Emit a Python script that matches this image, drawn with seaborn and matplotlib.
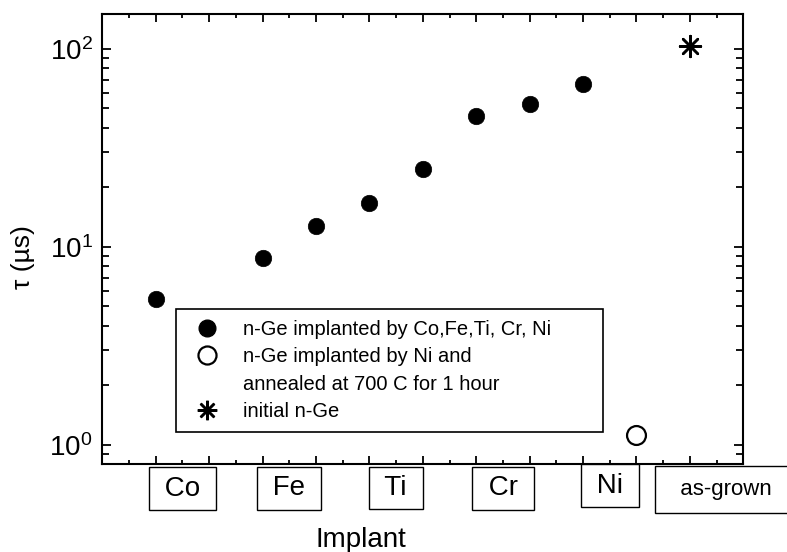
import matplotlib
matplotlib.use("Agg")
import matplotlib.pyplot as plt
import matplotlib.transforms as mtransforms
from matplotlib.lines import Line2D
from matplotlib.ticker import LogLocator, MultipleLocator, NullFormatter
import seaborn as sns
import pandas as pd

# ---- data ----
implanted_x = [1, 3, 4, 5, 6, 7, 8, 9]
implanted_tau = [5.46, 8.8, 12.7, 16.7, 24.6, 45.9, 52.7, 66.3]
annealed_x = [10]
annealed_tau = [1.12]
initial_x = [11]
initial_tau = [103]

category_labels = ["Co", "Fe", "Ti", "Cr", "Ni", "as-grown"]
category_pos = [1.5, 3.5, 5.5, 7.5, 9.5, 11.68]
category_y = [-0.055, -0.054, -0.053, -0.054, -0.048, -0.056]

legend_labels = [
    "n-Ge implanted by Co,Fe,Ti, Cr, Ni",
    "n-Ge implanted by Ni and",
    "annealed at 700 C for 1 hour",
    "initial n-Ge",
]

sns.set_theme(style="ticks", rc={
    "axes.edgecolor": "black", "text.color": "black", "axes.labelcolor": "black",
    "xtick.color": "black", "ytick.color": "black",
})
plt.rcParams["font.family"] = ["Liberation Sans", "DejaVu Sans"]
plt.rcParams["mathtext.fontset"] = "custom"
plt.rcParams["mathtext.rm"] = "Liberation Sans"
plt.rcParams["mathtext.it"] = "Liberation Sans:italic"
plt.rcParams["mathtext.bf"] = "Liberation Sans:bold"

fig = plt.figure(figsize=(7.87, 5.52), dpi=100)
ax = fig.add_axes([0.13, 0.1594, 0.8145, 0.8152])
ax.set_yscale("log")

df1 = pd.DataFrame({"x": implanted_x, "tau": implanted_tau})
sns.scatterplot(data=df1, x="x", y="tau", ax=ax, color="black", s=140, marker="o",
                edgecolor="black", linewidth=0.5, legend=False, zorder=3)
df2 = pd.DataFrame({"x": annealed_x, "tau": annealed_tau})
sns.scatterplot(data=df2, x="x", y="tau", ax=ax, marker="o", s=185, facecolor="white",
                edgecolor="black", linewidth=1.6, legend=False, zorder=3)
df3 = pd.DataFrame({"x": initial_x, "tau": initial_tau})
sns.scatterplot(data=df3, x="x", y="tau", ax=ax, marker=(8, 2, 0), s=225, color="black",
                linewidth=1.8, legend=False, zorder=3)

ax.set_xlim(0, 12)
ax.set_ylim(0.80, 150)

ax.xaxis.set_major_locator(MultipleLocator(1))
ax.xaxis.set_minor_locator(MultipleLocator(0.5))
ax.xaxis.set_major_formatter(NullFormatter())
ax.yaxis.set_major_locator(LogLocator(base=10, numticks=10))
ax.yaxis.set_minor_locator(LogLocator(base=10, subs=range(2, 10), numticks=10))
ax.yaxis.set_minor_formatter(NullFormatter())
ax.tick_params(which="both", direction="in", top=True, right=True, color="black", width=1.3)
ax.tick_params(axis="x", which="major", length=6)
ax.tick_params(axis="x", which="minor", length=3)
ax.tick_params(axis="y", which="major", length=6.7, labelsize=20, pad=7)
ax.tick_params(axis="y", which="minor", length=5)
for sp in ax.spines.values():
    sp.set_linewidth(1.5)
    sp.set_color("black")

trans = mtransforms.blended_transform_factory(ax.transData, ax.transAxes)
for lab, pos, yy in zip(category_labels, category_pos, category_y):
    if lab == "as-grown":
        txt, fs, pad = "  " + lab + "  ", 16, 0.58
    else:
        txt, fs, pad = " " + lab + " ", 20, 0.3
    ax.text(pos, yy, txt, transform=trans, ha="center", va="center", fontsize=fs,
            bbox=dict(boxstyle=f"square,pad={pad}", fc="white", ec="black", lw=1.0),
            clip_on=False)

ax.set_xlabel("Implant", fontsize=20)
ax.xaxis.set_label_coords(0.404, -0.139)
ax.set_ylabel("τ (µs)", fontsize=19)
ax.yaxis.set_label_coords(-0.105, 0.46)

handles = [
    Line2D([], [], ls="none", marker="o", ms=12, mfc="black", mec="black"),
    Line2D([], [], ls="none", marker="o", ms=13, mfc="white", mec="black", mew=1.6),
    Line2D([], [], ls="none", marker=None),
    Line2D([], [], ls="none", marker=(8, 2, 0), ms=14, color="black", mew=1.8),
]
leg = ax.legend(handles, legend_labels, loc="lower left",
                bbox_to_anchor=(0.115, 0.071, 0.666, 0.285), mode="expand",
                fontsize=14.5, frameon=True, fancybox=False, edgecolor="black",
                framealpha=1, borderpad=0.55, labelspacing=0.42, handlelength=2.0,
                handletextpad=0.8, borderaxespad=0, numpoints=1)
leg.get_frame().set_linewidth(1.2)

fig.savefig("out.png", dpi=100)
